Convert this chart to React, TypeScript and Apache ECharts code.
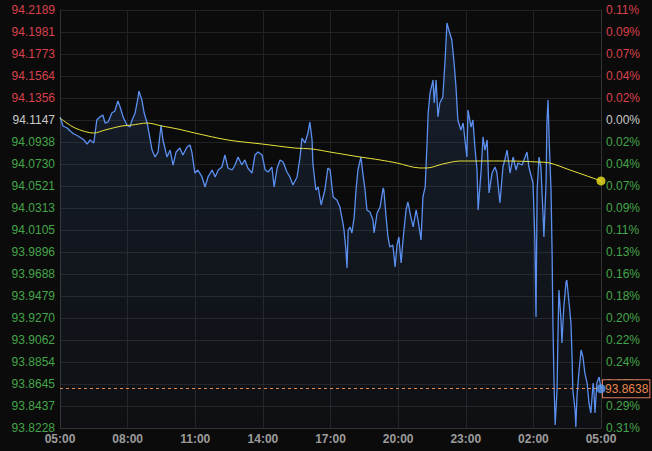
import React, { useEffect, useRef } from "react";
import * as echarts from "echarts";

// Price tick labels (top to bottom) and matching change percentages
const priceTickLabels = [
  "94.2189", "94.1981", "94.1773", "94.1564", "94.1356", "94.1147", "94.0938", "94.0730",
  "94.0521", "94.0313", "94.0105", "93.9896", "93.9688", "93.9479", "93.9270", "93.9062",
  "93.8854", "93.8645", "93.8437", "93.8228",
];
const pctTickLabels = [
  "0.11%", "0.09%", "0.07%", "0.04%", "0.02%", "0.00%", "0.02%", "0.04%", "0.07%", "0.09%",
  "0.11%", "0.13%", "0.16%", "0.18%", "0.20%", "0.22%", "0.24%", "0.27%", "0.29%", "0.31%",
];
const prevCloseIndex = 5;
const timeTickLabels = ["05:00", "08:00", "11:00", "14:00", "17:00", "20:00", "23:00", "02:00", "05:00"];

const priceMax = 94.2189;
const priceMin = 93.8228;
const lastPrice = 93.8638;

// minutes since 05:00
const priceMinutes = [
  0, 8, 19, 27, 37, 48, 64, 72, 80, 90, 98, 106, 114, 120, 128, 138, 146, 154, 160, 168, 178, 186,
  192, 200, 208, 210, 218, 224, 232, 237, 245, 253, 261, 269, 274, 285, 293, 301, 309, 319, 327,
  338, 346, 351, 359, 367, 378, 386, 394, 405, 413, 421, 431, 439, 447, 458, 466, 474, 484, 492,
  500, 511, 519, 527, 538, 546, 554, 564, 570, 578, 586, 594, 604, 612, 620, 631, 639, 644, 652,
  660, 665, 671, 673, 681, 687, 695, 705, 713, 719, 727, 737, 745, 753, 756, 761, 764, 767, 772,
  777, 783, 788, 793, 801, 806, 812, 817, 825, 833, 836, 844, 852, 860, 862, 868, 873, 878, 886,
  892, 897, 902, 908, 913, 921, 926, 934, 940, 948, 953, 961, 966, 972, 977, 980, 985, 993, 996,
  1001, 1006, 1011, 1019, 1025, 1030, 1035, 1043, 1049, 1054, 1059, 1067, 1073, 1078, 1083, 1086,
  1094, 1099, 1105, 1110, 1113, 1121, 1126, 1131, 1137, 1142, 1150, 1158, 1163, 1171, 1179, 1184,
  1190, 1198, 1206, 1214, 1219, 1230, 1238, 1243, 1248, 1259, 1264, 1267, 1270, 1275, 1280, 1286,
  1288, 1294, 1296, 1299, 1302, 1307, 1310, 1312, 1315, 1318, 1323, 1326, 1328, 1334, 1336, 1341,
  1347, 1349, 1355, 1360, 1363, 1365, 1371, 1373, 1376, 1381, 1387, 1392, 1397, 1403, 1408, 1413,
  1419, 1421, 1424, 1429, 1435, 1440,
];
const priceValues = [
  94.1175, 94.109, 94.1071, 94.1042, 94.1014, 94.0995, 94.0957, 94.0919, 94.0957, 94.0929, 94.1147,
  94.1175, 94.1194, 94.1118, 94.1128, 94.1213, 94.1232, 94.1327, 94.127, 94.1175, 94.1099, 94.108,
  94.1147, 94.1213, 94.1365, 94.1421, 94.1336, 94.1213, 94.1118, 94.1023, 94.0862, 94.0796, 94.0843,
  94.1099, 94.0957, 94.0796, 94.0862, 94.072, 94.0843, 94.0881, 94.0815, 94.0891, 94.091, 94.0843,
  94.0644, 94.0673, 94.0607, 94.0512, 94.0607, 94.0673, 94.0607, 94.0673, 94.0701, 94.0815, 94.0692,
  94.0673, 94.072, 94.0796, 94.072, 94.0768, 94.0692, 94.0644, 94.0815, 94.0843, 94.0815, 94.0673,
  94.0654, 94.0701, 94.0512, 94.0692, 94.0768, 94.0749, 94.0654, 94.0607, 94.0531, 94.0607, 94.0796,
  94.0976, 94.0929, 94.1023, 94.1128, 94.0957, 94.0739, 94.0483, 94.0512, 94.0341, 94.0483, 94.0692,
  94.0673, 94.0417, 94.0389, 94.0322, 94.0171, 94.0104, 93.9915, 93.9744, 94.0104, 94.0133, 94.0076,
  94.0227, 94.0483, 94.0673, 94.0796, 94.0644, 94.0483, 94.0294, 94.0275, 94.0199, 94.0076, 94.0265,
  94.0322, 94.0502, 94.0483, 94.0227, 94.0038, 93.9943, 93.9962, 93.9754, 93.9962, 94.0038, 93.9792,
  94.001, 94.0294, 94.037, 94.0227, 94.0133, 94.0294, 94.0199, 94.001, 94.0417, 94.0512, 94.0929,
  94.1213, 94.1403, 94.1526, 94.1308, 94.1526, 94.1175, 94.1308, 94.1365, 94.1715, 94.2066, 94.1999,
  94.1905, 94.1687, 94.1459, 94.1147, 94.1052, 94.1118, 94.0957, 94.0796, 94.1241, 94.108, 94.1147,
  94.0862, 94.0673, 94.0294, 94.0673, 94.0986, 94.0862, 94.0957, 94.0455, 94.0644, 94.0701, 94.0644,
  94.036, 94.0701, 94.0768, 94.0862, 94.0644, 94.0796, 94.0673, 94.0739, 94.072, 94.0796, 94.0843,
  94.0701, 94.055, 94.001, 93.928, 94.0483, 94.0796, 94.0701, 94.0227, 94.0038, 94.0578, 94.1118,
  94.1336, 94.0957, 94.0483, 93.9848, 93.9223, 93.8654, 93.8256, 93.8588, 93.9223, 93.9536, 93.9223,
  93.9034, 93.9375, 93.9612, 93.963, 93.9413, 93.9223, 93.8901, 93.8588, 93.8399, 93.8238, 93.8522,
  93.8749, 93.8967, 93.8901, 93.8749, 93.8654, 93.8465, 93.837, 93.8654, 93.8588, 93.837, 93.8654,
  93.8711, 93.86,
];

// moving average line
const avgMinutes = [
  0, 40, 90, 120, 165, 192, 232, 271, 314, 359, 447, 538, 625, 671, 719, 799, 852, 897, 958, 977,
  1019, 1065, 1110, 1198, 1270, 1304, 1357, 1403, 1440,
];
const avgValues = [
  94.1165, 94.1071, 94.1023, 94.1052, 94.109, 94.1099, 94.1118, 94.109, 94.1061, 94.1023, 94.0957,
  94.0919, 94.0881, 94.0872, 94.0843, 94.0796, 94.0768, 94.0739, 94.0692, 94.0692, 94.073, 94.0758,
  94.0758, 94.0758, 94.0749, 94.0739, 94.0673, 94.0616, 94.0569,
];

const RED = "#d8414d";
const GREEN = "#45a54a";
const NEUTRAL = "#c9c9c9";
const FONT = "Arial, 'Liberation Sans', sans-serif";

function labelColor(i: number) {
  if (i < prevCloseIndex) return RED;
  if (i === prevCloseIndex) return NEUTRAL;
  return GREEN;
}

export default function App() {
  const ref = useRef<HTMLDivElement>(null);

  useEffect(() => {
    if (!ref.current) return;
    const chart = echarts.init(ref.current, undefined, { renderer: "svg" });
    const n = priceTickLabels.length - 1;
    const priceData = priceMinutes.map((m, i) => [m, priceValues[i]]);
    const avgData = avgMinutes.map((m, i) => [m, avgValues[i]]);
    const lastIdx = priceMinutes.length - 1;
    const lastAvg = avgMinutes.length - 1;

    chart.setOption({
      animation: false,
      backgroundColor: "#0b0b0b",
      textStyle: { fontFamily: FONT },
      grid: { left: 60, right: 51, top: 10, bottom: 23, containLabel: false },
      xAxis: {
        type: "value",
        min: 0,
        max: 1440,
        interval: 180,
        axisLine: { show: true, lineStyle: { color: "#333333" } },
        axisTick: { show: false },
        splitLine: { show: true, lineStyle: { color: "#222222", width: 1 } },
        axisLabel: {
          color: "#9c9c9c",
          fontSize: 12,
          fontWeight: "bold",
          fontFamily: FONT,
          margin: 5,
          formatter: (v: number) => timeTickLabels[Math.round(v / 180)] ?? "",
        },
      },
      yAxis: [
        {
          type: "value",
          position: "left",
          min: 0,
          max: n,
          interval: 1,
          axisLine: { show: true, lineStyle: { color: "#333333" } },
          axisTick: { show: false },
          splitLine: { show: true, lineStyle: { color: "#222222", width: 1 } },
          axisLabel: {
            fontSize: 12,
            fontFamily: FONT,
            margin: 5,
            formatter: (v: number) => priceTickLabels[n - Math.round(v)] ?? "",
            color: (v: any) => labelColor(n - Math.round(Number(v))),
          },
        },
        {
          type: "value",
          position: "right",
          min: 0,
          max: n,
          interval: 1,
          axisLine: { show: true, lineStyle: { color: "#333333" } },
          axisTick: { show: false },
          splitLine: { show: false },
          axisLabel: {
            fontSize: 12,
            fontFamily: FONT,
            margin: 5,
            formatter: (v: number) => pctTickLabels[n - Math.round(v)] ?? "",
            color: (v: any) => labelColor(n - Math.round(Number(v))),
          },
        },
        {
          type: "value",
          min: priceMin,
          max: priceMax,
          show: false,
          splitLine: { show: false },
        },
      ],
      series: [
        {
          type: "line",
          yAxisIndex: 2,
          data: priceData,
          showSymbol: false,
          symbol: "none",
          lineStyle: { color: "#5b8ff0", width: 1.3 },
          areaStyle: {
            origin: "start",
            color: new echarts.graphic.LinearGradient(0, 0, 0, 1, [
              { offset: 0, color: "rgba(60,95,150,0.35)" },
              { offset: 1, color: "rgba(60,95,150,0.08)" },
            ]),
          },
          markLine: {
            silent: true,
            symbol: "none",
            lineStyle: { color: "#e08a50", type: [3, 3], width: 1 },
            label: {
              show: true,
              position: "end",
              distance: 2,
              formatter: lastPrice.toFixed(4),
              color: "#e8874f",
              fontSize: 12,
              fontFamily: FONT,
              backgroundColor: "#0b0b0b",
              borderColor: "#e07b5b",
              borderWidth: 1,
              padding: [3, 1, 2, 2],
            },
            data: [{ yAxis: lastPrice }],
          },
          z: 3,
        },
        {
          type: "line",
          yAxisIndex: 2,
          data: avgData,
          showSymbol: false,
          symbol: "none",
          smooth: 0.3,
          lineStyle: { color: "#e9e43c", width: 1 },
          z: 4,
        },
        {
          type: "scatter",
          yAxisIndex: 2,
          data: [[avgMinutes[lastAvg], avgValues[lastAvg]]],
          symbolSize: 9,
          itemStyle: { color: "#f3e51a" },
          z: 5,
        },
        {
          type: "scatter",
          yAxisIndex: 2,
          data: [[priceMinutes[lastIdx], priceValues[lastIdx]]],
          symbolSize: 9,
          itemStyle: { color: "#5b9cf2" },
          z: 6,
        },
      ],
    });
    return () => chart.dispose();
  }, []);

  return (
    <div
      ref={ref}
      style={{ position: "fixed", left: 0, top: 0, width: 652, height: 451, background: "#0b0b0b" }}
    />
  );
}
